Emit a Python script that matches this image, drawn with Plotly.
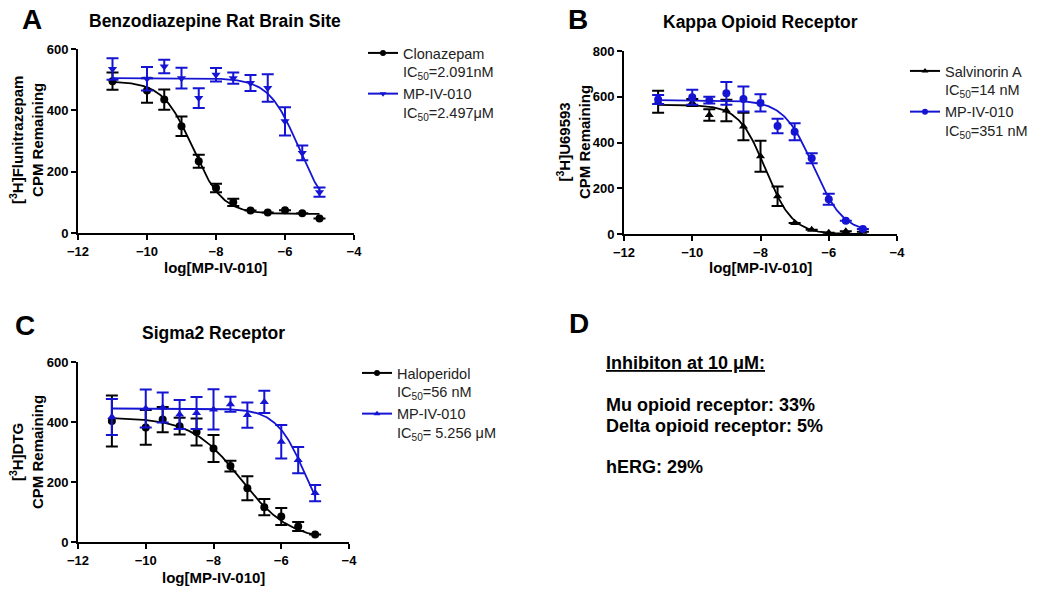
import numpy as np
import plotly.graph_objects as go

W, H = 1050, 592

log_dose = [-11, -10, -9.5, -9, -8.5, -8, -7.5, -7, -6.5, -6, -5.5, -5]
x_ticks = [-12, -10, -8, -6, -4]

# Panel A: Benzodiazepine Rat Brain Site
a_clon_mean = [495, 465, 435, 348, 234, 147, 100, 73, 67, 74, 64, 47]
a_clon_err = [28, 40, 33, 32, 21, 14, 12, 0, 0, 0, 0, 0]
a_mp_mean = [535, 503, 543, 505, 440, 516, 505, 489, 473, 364, 261, 133]
a_mp_err = [35, 38, 22, 34, 32, 22, 18, 26, 45, 46, 24, 15]
a_clon_fit = dict(top=495, bottom=62, logic50=-8.68, hill=1.0)
a_mp_fit = dict(top=505, bottom=50, logic50=-5.60, hill=1.0)

# Panel B: Kappa Opioid Receptor
b_sal_mean = [578, 575, 520, 540, 470, 340, 165, 48, 19, 6, 12, 10]
b_sal_err = [48, 15, 25, 47, 60, 68, 43, 0, 0, 0, 0, 0]
b_mp_mean = [588, 598, 585, 615, 590, 573, 472, 447, 331, 152, 58, 22]
b_mp_err = [20, 33, 15, 50, 55, 38, 32, 37, 22, 24, 0, 0]
b_sal_fit = dict(top=565, bottom=0, logic50=-7.85, hill=1.1)
b_mp_fit = dict(top=585, bottom=5, logic50=-6.45, hill=1.0)

# Panel C: Sigma2 Receptor
c_hal_mean = [403, 382, 408, 386, 367, 312, 253, 179, 116, 85, 52, 25]
c_hal_err = [85, 58, 42, 28, 45, 45, 18, 40, 27, 28, 15, 0]
c_mp_mean = [417, 445, 448, 425, 430, 442, 459, 423, 467, 334, 273, 163]
c_mp_err = [60, 63, 50, 48, 53, 67, 25, 42, 37, 56, 44, 27]
c_hal_fit = dict(top=415, bottom=5, logic50=-7.2, hill=0.6)
c_mp_fit = dict(top=445, bottom=0, logic50=-5.28, hill=1.0)

# Panel D text
d_title = "Inhibiton at 10 μM:"
d_lines = ["Mu opioid receptor: 33%", "Delta opioid receptor: 5%", "hERG: 29%"]

BLACK = "#000000"
BLUE = "#1414d2"
FONT = "Liberation Sans, Arial, sans-serif"


def fit_curve(p):
    xs = np.linspace(log_dose[0], log_dose[-1], 200)
    ys = p["bottom"] + (p["top"] - p["bottom"]) / (1 + 10 ** ((xs - p["logic50"]) * p["hill"]))
    return xs, ys


fig = go.Figure()


def add_series(name, mean, err, fit, color, symbol, axis, legend, msize):
    xa = "x" if axis == 1 else f"x{axis}"
    ya = "y" if axis == 1 else f"y{axis}"
    xs, ys = fit_curve(fit)
    fig.add_trace(go.Scatter(x=xs, y=ys, mode="lines", line=dict(color=color, width=1.8),
                             xaxis=xa, yaxis=ya, showlegend=False, hoverinfo="skip"))
    fig.add_trace(go.Scatter(x=log_dose, y=mean, mode="markers",
                             marker=dict(color=color, symbol=symbol, size=msize),
                             error_y=dict(type="data", array=err, color=color, thickness=2, width=6),
                             xaxis=xa, yaxis=ya, showlegend=False))
    fig.add_trace(go.Scatter(x=[None], y=[None], mode="lines+markers", name=name,
                             line=dict(color=color, width=2),
                             marker=dict(color=color, symbol=symbol, size=6),
                             xaxis=xa, yaxis=ya, legend=legend))


add_series("Clonazepam<br>IC<sub>50</sub>=2.091nM", a_clon_mean, a_clon_err, a_clon_fit,
           BLACK, "circle", 1, "legend", 8)
add_series("MP-IV-010<br>IC<sub>50</sub>=2.497μM", a_mp_mean, a_mp_err, a_mp_fit,
           BLUE, "triangle-down", 1, "legend", 8)
add_series("Salvinorin A<br>IC<sub>50</sub>=14 nM", b_sal_mean, b_sal_err, b_sal_fit,
           BLACK, "triangle-up", 2, "legend2", 8)
add_series("MP-IV-010<br>IC<sub>50</sub>=351 nM", b_mp_mean, b_mp_err, b_mp_fit,
           BLUE, "circle", 2, "legend2", 8)
add_series("Haloperidol<br>IC<sub>50</sub>=56 nM", c_hal_mean, c_hal_err, c_hal_fit,
           BLACK, "circle", 3, "legend3", 8)
add_series("MP-IV-010<br>IC<sub>50</sub>= 5.256 μM", c_mp_mean, c_mp_err, c_mp_fit,
           BLUE, "triangle-up", 3, "legend3", 8)


def px(x):
    return x / W


def py(y):
    return 1 - y / H


axis_common = dict(showline=True, linecolor="black", linewidth=2, ticks="outside",
                   ticklen=5, tickwidth=2, tickcolor="black", showgrid=False, zeroline=False,
                   automargin=False,
                   tickfont=dict(family=FONT, size=13, color="black", weight="bold"))

fig.update_layout(
    width=W, height=H, margin=dict(l=0, r=0, t=0, b=0, autoexpand=False),
    paper_bgcolor="white", plot_bgcolor="white",
    font=dict(family=FONT, color="black"),
    xaxis=dict(domain=[px(78), px(354)], range=[-12, -4], tickvals=x_ticks, anchor="y", **axis_common),
    yaxis=dict(domain=[py(233), py(49)], range=[0, 600], tickvals=[0, 200, 400, 600], anchor="x", **axis_common),
    xaxis2=dict(domain=[px(624), px(897)], range=[-12, -4], tickvals=x_ticks, anchor="y2", **axis_common),
    yaxis2=dict(domain=[py(234), py(51)], range=[0, 800], tickvals=[0, 200, 400, 600, 800], anchor="x2", **axis_common),
    xaxis3=dict(domain=[px(78), px(349)], range=[-12, -4], tickvals=x_ticks, anchor="y3", **axis_common),
    yaxis3=dict(domain=[py(542), py(362)], range=[0, 600], tickvals=[0, 200, 400, 600], anchor="x3", **axis_common),
)

leg_common = dict(bgcolor="rgba(0,0,0,0)", borderwidth=0, xanchor="left", yanchor="top",
                  valign="top", itemwidth=30, tracegroupgap=0,
                  font=dict(family=FONT, size=14.5, color="#222"))
fig.update_layout(
    legend=dict(x=px(363), y=py(37), **leg_common),
    legend2=dict(x=px(905), y=py(55), **leg_common),
    legend3=dict(x=px(357), y=py(357), **leg_common),
)

ann = []


def text(x, y, s, size, bold=True, angle=0, xanchor="center"):
    ann.append(dict(x=px(x), y=py(y), xref="paper", yref="paper", text=s, showarrow=False,
                    xanchor=xanchor, yanchor="middle", textangle=angle,
                    font=dict(family=FONT, size=size, color="black",
                              weight="bold" if bold else "normal")))


# panel letters
text(32, 20, "A", 28)
text(578, 19, "B", 28)
text(25, 325, "C", 28)
text(579, 323, "D", 28)
# titles
text(215, 21, "Benzodiazepine Rat Brain Site", 17.5)
text(760, 22, "Kappa Opioid Receptor", 17.5)
text(213, 333, "Sigma2 Receptor", 17.5)
# x titles
text(215, 268, "log[MP-IV-010]", 15)
text(760, 268, "log[MP-IV-010]", 15)
text(213, 577, "log[MP-IV-010]", 15)
# y titles
text(26, 140, "[<sup>3</sup>H]Flunitrazepam<br>CPM Remaining", 15, angle=-90)
text(573, 142, "[<sup>3</sup>H]U69593<br>CPM Remaining", 15, angle=-90)
text(26, 452, "[<sup>3</sup>H]DTG<br>CPM Remaining", 15, angle=-90)
# panel D
text(604, 363, "<u>" + d_title + "</u>", 18, xanchor="left")
text(604, 405, d_lines[0], 18, xanchor="left")
text(604, 426, d_lines[1], 18, xanchor="left")
text(604, 467, d_lines[2], 18, xanchor="left")

fig.update_layout(annotations=ann)
fig.write_html("out.html", config={"displayModeBar": False},
               post_script="document.body.style.margin='0px';")
